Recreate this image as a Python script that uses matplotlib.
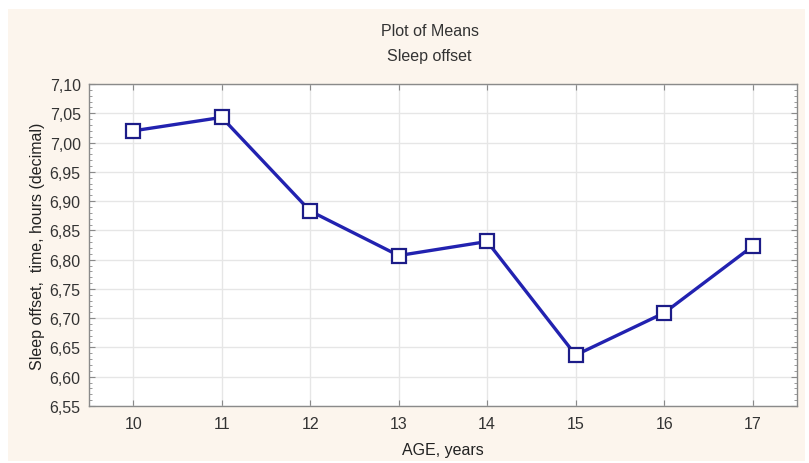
import matplotlib
matplotlib.use("Agg")
import matplotlib.pyplot as plt
import matplotlib.ticker as ticker
from matplotlib.patches import Rectangle

# Mean sleep offset by age
ages = [10, 11, 12, 13, 14, 15, 16, 17]
offset_means = [7.020, 7.043, 6.883, 6.807, 6.831, 6.637, 6.709, 6.823]

plt.rcParams['font.family'] = ['Liberation Sans', 'DejaVu Sans']

fig = plt.figure(figsize=(8.09, 4.64), dpi=100, facecolor='white')
# cream panel behind the plot
fig.patches.append(Rectangle((8 / 809, 2 / 464), 797 / 809, 452 / 464,
                             transform=fig.transFigure, facecolor='#fcf5ed',
                             edgecolor='none', zorder=-1))

ax = fig.add_axes([0.110, 0.1228, 0.875, 0.694])
ax.set_facecolor('white')

ax.plot(ages, offset_means, color='#2222b0', linewidth=2.4,
        marker='s', markersize=10.5, markerfacecolor='white',
        markeredgecolor='#1c1c88', markeredgewidth=1.6, zorder=3)

ax.set_xlim(9.5, 17.5)
ax.set_ylim(6.55, 7.10)
ax.xaxis.set_major_locator(ticker.MultipleLocator(1))
ax.yaxis.set_major_locator(ticker.MultipleLocator(0.05))
ax.yaxis.set_minor_locator(ticker.MultipleLocator(0.01))
ax.yaxis.set_major_formatter(ticker.FuncFormatter(lambda v, p: f"{v:.2f}".replace('.', ',')))

ax.grid(True, which='major', color='#e6e6e6', linewidth=1.0)
ax.set_axisbelow(True)
for s in ax.spines.values():
    s.set_color('#8a8a8a')
    s.set_linewidth(1.0)

ax.tick_params(axis='both', which='both', direction='in', colors='#8a8a8a',
               labelcolor='#333333', labelsize=11.5, right=True, top=True)
ax.tick_params(axis='both', which='major', length=4)
ax.tick_params(axis='y', which='minor', length=2)
ax.tick_params(axis='x', pad=7)
ax.tick_params(axis='y', pad=6)

ax.set_xlabel('AGE, years', fontsize=11.5, color='#222222', labelpad=8)
ax.set_ylabel('Sleep offset,  time, hours (decimal)', fontsize=11.5, color='#222222', labelpad=3)

fig.text(0.531, 1 - 31 / 464, 'Plot of Means', ha='center', va='center', fontsize=11.5, color='#333333')
fig.text(0.531, 1 - 57 / 464, 'Sleep offset', ha='center', va='center', fontsize=11.5, color='#333333')

fig.savefig('out.png', dpi=100, facecolor=fig.get_facecolor())
